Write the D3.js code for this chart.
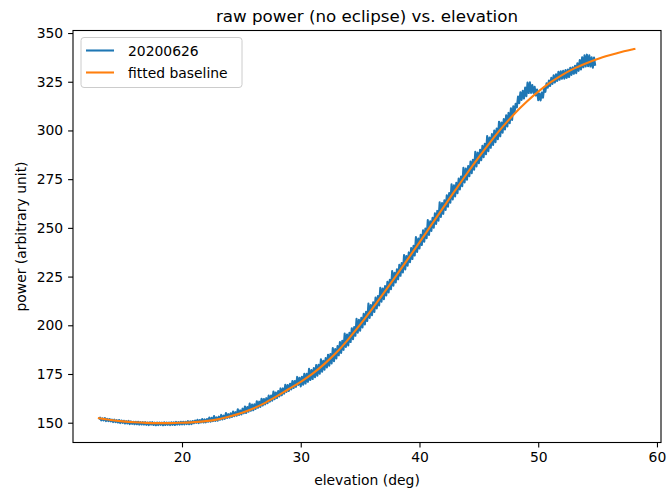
<!DOCTYPE html>
<html>
<head>
<meta charset="utf-8">
<script src="https://cdn.jsdelivr.net/npm/d3@7"></script>
<style>
  body { margin: 0; background: #fff; }
  svg text { font-family: "DejaVu Sans", sans-serif; fill: #000; }
</style>
</head>
<body>
<div id="chart"></div>
<script>
// chart consts
const width = 669
const height = 494
const margin = { top: 30.5, right: 8, bottom: 51.5, left: 73 }

const title = "raw power (no eclipse) vs. elevation"
const x_label = "elevation (deg)"
const y_label = "power (arbitrary unit)"
const series_names = ["20200626", "fitted baseline"]
const x_ticks = [20, 30, 40, 50, 60]
const y_ticks = [150, 175, 200, 225, 250, 275, 300, 325, 350]

// raw power, sampled every 0.1 deg starting at 13.0 deg (one row per degree)
const raw_start = 13.0
const raw_step = 0.1
const raw_power = [
  151.7, 152.6, 151.2, 152.2, 151.2, 152.4, 150.8, 152.0, 150.8, 151.9,
  150.7, 151.6, 150.3, 151.6, 150.3, 151.3, 150.1, 151.4, 149.8, 151.1,
  149.9, 151.0, 149.6, 150.8, 149.6, 150.9, 149.3, 150.7, 149.4, 150.5,
  149.2, 150.5, 149.2, 150.5, 149.0, 150.3, 149.1, 150.3, 149.0, 150.3,
  148.9, 150.1, 148.8, 150.2, 149.0, 150.3, 148.8, 150.0, 148.7, 150.1,
  148.8, 150.1, 148.9, 150.0, 148.7, 150.2, 148.8, 150.1, 148.9, 150.1,
  148.8, 150.2, 148.9, 150.2, 148.8, 150.4, 149.0, 150.3, 149.0, 150.5,
  149.1, 150.5, 149.1, 150.5, 149.3, 150.8, 149.2, 150.7, 149.3, 150.9,
  149.7, 151.1, 149.9, 151.5, 149.8, 151.4, 150.1, 151.9, 150.1, 151.7,
  150.2, 151.9, 150.5, 152.7, 150.5, 152.5, 150.8, 153.4, 150.9, 152.7,
  151.0, 153.1, 151.5, 154.0, 151.7, 153.6, 152.0, 155.0, 152.4, 154.4,
  152.6, 154.8, 152.9, 155.7, 153.3, 155.4, 153.6, 156.9, 154.0, 156.3,
  154.2, 157.2, 154.8, 158.3, 155.0, 158.0, 155.6, 159.8, 156.1, 159.3,
  156.4, 159.5, 157.1, 161.0, 157.7, 160.8, 158.1, 162.3, 158.8, 162.2,
  159.4, 162.6, 160.0, 163.9, 160.8, 163.9, 161.3, 166.0, 162.1, 165.5,
  162.7, 166.2, 163.5, 167.6, 164.1, 167.6, 164.9, 169.5, 165.8, 169.3,
  166.3, 170.0, 167.1, 171.4, 167.8, 171.4, 168.4, 173.5, 169.4, 173.1,
  168.6, 173.6, 169.5, 175.1, 170.1, 175.1, 171.0, 177.7, 171.9, 177.0,
  172.4, 178.0, 173.4, 179.6, 174.1, 179.7, 175.2, 182.5, 176.2, 181.8,
  177.2, 183.2, 178.4, 184.9, 179.3, 185.2, 180.4, 188.3, 181.6, 187.8,
  183.0, 189.3, 184.6, 191.4, 185.8, 192.1, 187.4, 195.8, 188.9, 195.3,
  189.7, 196.1, 191.4, 198.5, 192.9, 199.1, 194.6, 203.3, 196.2, 202.8,
  197.2, 203.8, 198.9, 205.9, 200.4, 206.9, 202.2, 211.1, 203.8, 210.4,
  205.2, 211.8, 206.9, 214.2, 208.7, 215.0, 210.2, 219.2, 212.1, 218.9,
  213.4, 220.1, 215.3, 222.3, 216.9, 223.3, 218.5, 227.8, 220.3, 227.0,
  222.0, 228.7, 223.6, 231.0, 225.4, 231.9, 227.1, 236.1, 228.7, 235.6,
  230.6, 237.4, 232.4, 239.7, 234.0, 240.8, 235.8, 245.3, 237.6, 244.5,
  239.4, 246.4, 241.2, 248.7, 242.9, 249.7, 244.7, 254.0, 246.4, 253.4,
  248.4, 255.2, 250.1, 257.5, 252.0, 258.7, 253.7, 263.1, 255.6, 262.7,
  257.2, 264.2, 259.2, 266.7, 260.9, 267.9, 262.9, 272.4, 264.6, 271.8,
  266.1, 273.1, 267.8, 275.3, 269.7, 276.4, 271.4, 280.8, 273.3, 280.4,
  274.7, 281.7, 276.5, 284.1, 278.1, 285.0, 279.9, 289.0, 281.5, 288.6,
  283.2, 290.1, 284.7, 292.1, 286.3, 293.1, 287.8, 297.1, 289.4, 296.4,
  291.1, 298.1, 292.6, 300.0, 294.0, 301.0, 295.5, 304.5, 297.0, 304.1,
  298.9, 305.8, 300.5, 307.8, 302.1, 309.0, 303.7, 311.4, 305.4, 312.4,
  309.1, 313.7, 311.8, 317.4, 314.0, 319.6, 315.7, 320.3, 316.4, 322.0,
  317.6, 324.6, 319.2, 324.7, 319.3, 323.3, 319.3, 322.4, 317.9, 321.0,
  315.5, 319.0, 315.4, 319.4, 316.8, 321.8, 319.8, 324.2, 321.9, 325.6,
  322.8, 327.0, 323.9, 328.3, 324.6, 328.8, 325.4, 330.1, 326.0, 330.4,
  326.5, 330.6, 326.6, 331.0, 327.0, 331.3, 327.4, 332.2, 328.5, 332.4,
  329.1, 333.2, 329.4, 334.5, 330.6, 336.1, 331.3, 337.6, 332.4, 338.6,
  332.9, 338.9, 333.0, 338.6, 332.8, 337.5, 332.2, 337.4, 333.2
]

// fitted baseline
const fit_elevation = [13, 14, 15, 16, 17, 18, 19, 20, 21, 22, 23, 24, 25, 26, 27, 28, 29, 30, 31, 32, 33, 34, 35,
  36, 37, 38, 39, 40, 41, 42, 43, 44, 45, 46, 47, 48, 49, 50, 51, 52, 53, 54, 55, 56, 57, 58, 58.1]
const fit_power = [152.3, 151.4, 150.7, 150.2, 149.9, 149.8, 149.8, 150.0, 150.3, 150.8, 151.7, 153.2, 155.0,
  157.3, 160.2, 163.6, 167.3, 171.0, 175.2, 180.2, 186.0, 192.8, 200.3, 208.3, 216.6, 225.1, 233.8, 242.6,
  251.5, 260.4, 269.2, 277.9, 286.3, 294.3, 301.8, 308.6, 314.6, 319.9, 324.5, 328.4, 331.7, 334.4, 336.7,
  338.6, 340.3, 341.7, 341.85]

const colors = ["#1f77b4", "#ff7f0e"]
const line_w = 2.08   // 1.5pt at 100 dpi

// svg setup
function setup_svg(){
    var svg = d3.select("#chart").append("svg")
        .attr("width", width)
        .attr("height", height)
    return svg
}

const inner_w = width - margin.left - margin.right
const inner_h = height - margin.top - margin.bottom

const x = d3.scaleLinear().domain([10.82, 60.34]).range([margin.left, margin.left + inner_w])
const y = d3.scaleLinear().domain([139.84, 351.3]).range([margin.top + inner_h, margin.top])

var svg = setup_svg()

const raw_points = raw_power.map((v, i) => [raw_start + i * raw_step, v])
const fit_points = fit_elevation.map((e, i) => [e, fit_power[i]])

const line = d3.line().x(d => x(d[0])).y(d => y(d[1]))

svg.append("path")
    .datum(raw_points)
    .attr("fill", "none")
    .attr("stroke", colors[0])
    .attr("stroke-width", line_w)
    .attr("stroke-linejoin", "round")
    .attr("d", line)

svg.append("path")
    .datum(fit_points)
    .attr("fill", "none")
    .attr("stroke", colors[1])
    .attr("stroke-width", line_w)
    .attr("stroke-linecap", "square")
    .attr("d", line.curve(d3.curveMonotoneX))

// axes
const tick_font = "13.9px"
const x_axis = svg.append("g")
    .attr("transform", `translate(0,${margin.top + inner_h})`)
    .call(d3.axisBottom(x).tickValues(x_ticks).tickSize(4.9).tickPadding(4.9).tickSizeOuter(0))
const y_axis = svg.append("g")
    .attr("transform", `translate(${margin.left},0)`)
    .call(d3.axisLeft(y).tickValues(y_ticks).tickSize(4.9).tickPadding(4.9).tickSizeOuter(0))

for (const ax of [x_axis, y_axis]) {
    ax.select(".domain").remove()
    ax.selectAll(".tick line").attr("stroke", "#000").attr("stroke-width", 1.1)
    ax.selectAll(".tick text").style("font-size", tick_font).attr("fill", "#000")
        .style("font-family", "DejaVu Sans, sans-serif")
}

// frame
svg.append("rect")
    .attr("x", margin.left).attr("y", margin.top)
    .attr("width", inner_w).attr("height", inner_h)
    .attr("fill", "none").attr("stroke", "#000").attr("stroke-width", 1.1)

// titles
svg.append("text")
    .attr("x", margin.left + inner_w / 2).attr("y", 22)
    .attr("text-anchor", "middle").style("font-size", "16.7px")
    .text(title)
svg.append("text")
    .attr("x", margin.left + inner_w / 2).attr("y", 485)
    .attr("text-anchor", "middle").style("font-size", "13.9px")
    .text(x_label)
svg.append("text")
    .attr("transform", `translate(26,${margin.top + inner_h / 2}) rotate(-90)`)
    .attr("text-anchor", "middle").style("font-size", "13.9px")
    .text(y_label)

// legend
const legend = svg.append("g").attr("transform", `translate(${margin.left + 8},${margin.top + 7})`)
legend.append("rect")
    .attr("width", 161).attr("height", 50).attr("rx", 3)
    .attr("fill", "#fff").attr("fill-opacity", 0.8)
    .attr("stroke", "#ccc").attr("stroke-width", 1)
series_names.forEach((name, i) => {
    const ly = 13 + i * 22
    legend.append("line")
        .attr("x1", 5).attr("x2", 33).attr("y1", ly).attr("y2", ly)
        .attr("stroke", colors[i]).attr("stroke-width", line_w)
    legend.append("text")
        .attr("x", 47).attr("y", ly + 5)
        .style("font-size", "13.9px")
        .text(name)
})
</script>
</body>
</html>
